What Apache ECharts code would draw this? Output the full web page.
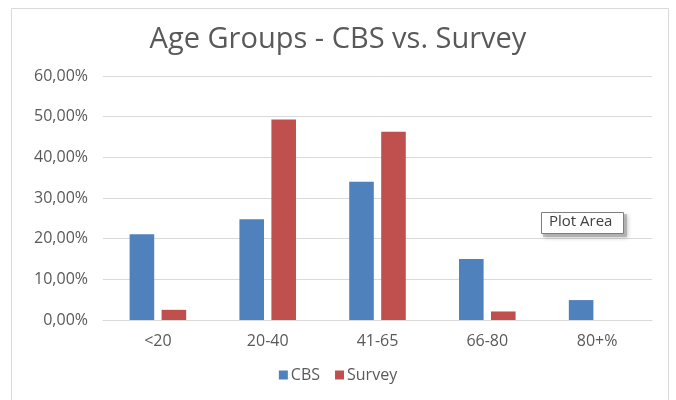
<!DOCTYPE html>
<html><head><meta charset="utf-8">
<script src="https://cdn.jsdelivr.net/npm/echarts@6/dist/echarts.min.js"></script>
<style>html,body{margin:0;padding:0;background:#fff}#c{width:676px;height:400px}</style>
</head><body><div id="c"></div>
<script>
const categories = ['<20', '20-40', '41-65', '66-80', '80+%'];
const cbs = [21.1, 24.8, 34.0, 15.0, 4.9];
const survey = [2.5, 49.3, 46.3, 2.1, 0];
const yTicks = [0, 10, 20, 30, 40, 50, 60];

const chart = echarts.init(document.getElementById('c'));
const font = '"Open Sans", "Noto Sans", sans-serif';
chart.setOption({
  animation: false,
  backgroundColor: '#fff',
  textStyle: { fontFamily: font },
  title: {
    text: 'Age Groups - CBS vs. Survey',
    left: 'center', top: 20,
    textStyle: { fontFamily: font, fontSize: 29, fontWeight: 'normal', color: '#595959' }
  },
  legend: {
    bottom: 12, left: 'center',
    itemWidth: 9, itemHeight: 9, itemGap: 15,
    icon: 'rect',
    textStyle: { fontFamily: font, fontSize: 16, color: '#595959', padding: [0, 0, 0, -2] },
    data: ['CBS', 'Survey']
  },
  grid: { left: 103, right: 24, top: 76, bottom: 80 },
  xAxis: {
    type: 'category', data: categories,
    axisLine: { lineStyle: { color: '#d9d9d9' } },
    axisTick: { show: false },
    axisLabel: { color: '#595959', fontSize: 16, margin: 13, fontFamily: font }
  },
  yAxis: {
    type: 'value', min: yTicks[0], max: yTicks[yTicks.length - 1], interval: 10,
    axisLine: { show: false }, axisTick: { show: false },
    splitLine: { lineStyle: { color: '#d9d9d9' } },
    axisLabel: {
      color: '#595959', fontSize: 16, margin: 15, fontFamily: font,
      formatter: v => v.toFixed(2).replace('.', ',') + '%'
    }
  },
  series: [
    { name: 'CBS', type: 'bar', data: cbs, barWidth: '22.4%', barGap: '30%',
      itemStyle: { color: '#4f81bd' } },
    { name: 'Survey', type: 'bar', data: survey, barWidth: '22.4%',
      itemStyle: { color: '#c0504d' } }
  ],
  graphic: [
    { type: 'rect', shape: { x: 11.5, y: 8.5, width: 657, height: 400 },
      style: { fill: 'none', stroke: '#d9d9d9', lineWidth: 1 }, silent: true, z: -1 },
    { type: 'rect', shape: { x: 543, y: 214, width: 84, height: 23 },
      style: { fill: '#999', opacity: 0.55, shadowBlur: 4, shadowColor: 'rgba(0,0,0,0.4)', shadowOffsetX: 1, shadowOffsetY: 1 }, z: 10 },
    { type: 'rect', shape: { x: 541.5, y: 212.5, width: 82, height: 21 },
      style: { fill: '#fff', stroke: '#7f7f7f', lineWidth: 1 }, z: 11 },
    { type: 'text', left: 549, top: 214, z: 12,
      style: { text: 'Plot Area', fontFamily: font, fontSize: 15, fill: '#404040' } }
  ]
});
</script></body></html>
